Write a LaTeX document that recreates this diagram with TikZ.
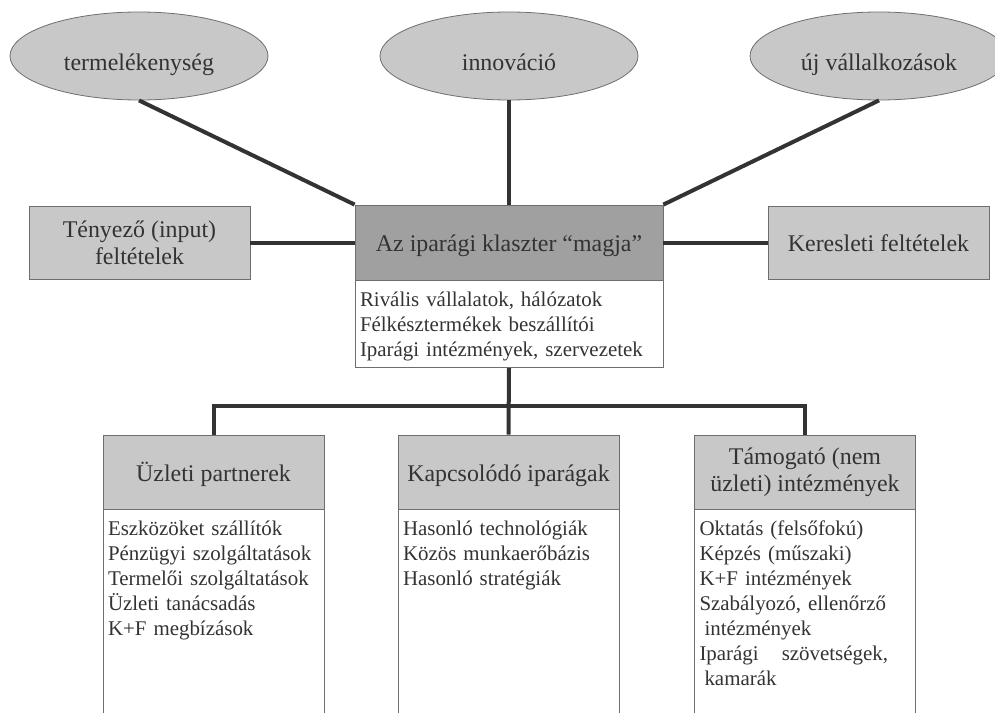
\documentclass[tikz,border=0pt]{standalone}
\usepackage{fontspec}
\setmainfont{Liberation Serif}
\usepackage{tikz}
\usetikzlibrary{shapes.geometric, positioning}
\usepackage{xcolor}
\definecolor{ovalfill}{HTML}{C8C8C8}
\definecolor{corefill}{HTML}{A0A0A0}
\definecolor{edgegray}{HTML}{6E6E6E}
\definecolor{linkgray}{HTML}{333333}
\definecolor{inkgray}{HTML}{333333}
\newcommand{\bigtxt}{\fontsize{24}{27}\selectfont}
\newcommand{\smalltxt}{\fontsize{21}{25}\selectfont}
\tikzset{
  oval/.style  ={draw=edgegray, ellipse, fill=ovalfill, line width=0.8bp,
                 minimum width=258bp, minimum height=88bp, inner sep=0pt,
                 text height=30bp, text depth=0bp,
                 font=\bigtxt, text=inkgray},
  factor/.style={draw=edgegray, fill=ovalfill, line width=0.8bp,
                 minimum width=221bp, minimum height=73bp, inner sep=0pt,
                 align=center, font=\bigtxt, text=inkgray},
  oneline/.style={text height=18bp, text depth=0bp},
  hdr/.style   ={factor, minimum height=74bp},
  corehdr/.style={factor, oneline, fill=corefill, minimum width=308bp,
                 minimum height=75bp},
  body/.style  ={draw=edgegray, fill=white, line width=0.8bp, anchor=north,
                 text width=211bp, align=left, inner xsep=5bp,
                 inner ysep=10bp, text height=16bp, text depth=210bp,
                 font=\smalltxt, text=inkgray},
  corebody/.style={body, text width=298bp, text depth=51bp},
  link/.style  ={line width=4bp, linkgray, line join=miter},
}
\begin{document}
\begin{tikzpicture}[x=1bp, y=-1bp]
  \useasboundingbox (0,0) rectangle (995,713);
  % outcomes
  \node[oval] (prod) at (139,56) {termelékenység};
  \node[oval] (innov) at (509,56) {innováció};
  \node[oval] (newco) at (879,56) {új vállalkozások};
  % cluster core and conditions
  \node[corehdr] (core) at (509,242.5) {Az iparági klaszter “magja”};
  \node[corebody] (cbody) at (core.south)
    {Rivális vállalatok, hálózatok\\
     Félkésztermékek beszállítói\\
     Iparági intézmények, szervezetek};
  \node[factor] (input)  at (139.5,242.5) {Tényező (input)\\feltételek};
  \node[factor, oneline] (demand) at (878.5,242.5) {Keresleti feltételek};
  % related groups
  \node[hdr, oneline] (partner) at (213.5,472) {Üzleti partnerek};
  \node[hdr, oneline] (related) at (508.5,472) {Kapcsolódó iparágak};
  \node[hdr] (support) at (805,472)   {Támogató (nem\\üzleti) intézmények};
  \node[body] (pbody) at (partner.south)
    {Eszközöket szállítók\\
     Pénzügyi szolgáltatások\\
     Termelői szolgáltatások\\
     Üzleti tanácsadás\\
     K+F megbízások};
  \node[body] (rbody) at (related.south)
    {Hasonló technológiák\\
     Közös munkaerőbázis\\
     Hasonló stratégiák};
  \node[body] (sbody) at (support.south)
    {Oktatás (felsőfokú)\\
     Képzés (műszaki)\\
     K+F intézmények\\
     Szabályozó, ellenőrző\\
     \hspace*{5bp}intézmények\\
     Iparági\hspace{23bp}szövetségek,\\
     \hspace*{5bp}kamarák};
  \coordinate (bar) at (509,406);
  \draw[link] (prod.south) -- (core.north west);
  \draw[link] (innov.south) -- (core.north);
  \draw[link] (newco.south) -- (core.north east);
  \draw[link] (input) -- (core);
  \draw[link] (core) -- (demand);
  \draw[link] (cbody.south) -- (related.north);
  \draw[link] (partner.north) |- (bar) -| (support.north);
\end{tikzpicture}
\end{document}
